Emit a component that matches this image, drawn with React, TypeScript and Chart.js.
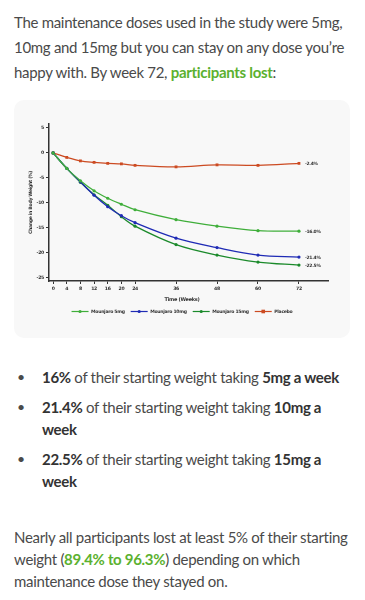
import React, { useEffect, useRef } from "react";
import { Chart, registerables } from "chart.js";

Chart.register(...registerables);

const weeks = [0, 4, 8, 12, 16, 20, 24, 36, 48, 60, 72];
const seriesNames = ["Mounjaro 5mg", "Mounjaro 10mg", "Mounjaro 15mg", "Placebo"];
const mounjaro5 = [0, -3.1, -5.6, -7.6, -9.1, -10.3, -11.4, -13.4, -14.7, -15.6, -15.7];
const mounjaro10 = [0, -3.1, -5.8, -8.5, -10.8, -12.6, -14.0, -17.1, -19.0, -20.5, -20.9];
const mounjaro15 = [0, -3.1, -5.9, -8.4, -10.5, -12.8, -14.7, -18.4, -20.5, -21.9, -22.5];
const placebo = [0, -0.9, -1.6, -1.9, -2.1, -2.2, -2.5, -2.8, -2.4, -2.5, -2.1];
const endLabels = ["-16.0%", "-21.4%", "-22.5%", "-2.4%"];
const yTicks = [5, 0, -5, -10, -15, -20, -25];
const xTitle = "Time (Weeks)";
const yTitle = "Change in Body Weight (%)";

const colors = ["#3fae3a", "#1f2bb5", "#1b8a2b", "#cc4b22"];
const pointStyles = ["circle", "circle", "circle", "rect"];

const FONT = "'DejaVu Sans', sans-serif";

function ChartCard() {
  const ref = useRef<HTMLCanvasElement | null>(null);
  useEffect(() => {
    if (!ref.current) return;
    const values = [mounjaro5, mounjaro10, mounjaro15, placebo];
    const extras = {
      id: "extras",
      afterDatasetsDraw(chart: any) {
        const ctx = chart.ctx;
        ctx.save();
        ctx.font = `bold 4.5px ${FONT}`;
        ctx.fillStyle = "#333";
        ctx.textBaseline = "middle";
        ctx.textAlign = "left";
        chart.data.datasets.forEach((_: any, i: number) => {
          const meta = chart.getDatasetMeta(i);
          const pt = meta.data[meta.data.length - 1];
          ctx.fillText(endLabels[i], pt.x + 6, pt.y + 0.5);
        });
        ctx.font = `bold 5px ${FONT}`;
        ctx.textAlign = "center";
        ctx.fillText(xTitle, chart.width / 2, 200);
        ctx.font = `bold 4.6px ${FONT}`;
        const segW = 17;
        const gap1 = 2.5;
        const gap2 = 6;
        const widths = seriesNames.map((n) => segW + gap1 + ctx.measureText(n).width);
        const total = widths.reduce((a, b) => a + b, 0) + gap2 * (seriesNames.length - 1);
        let x = chart.width / 2 - total / 2;
        const y = 211.5;
        seriesNames.forEach((n, i) => {
          ctx.strokeStyle = colors[i];
          ctx.fillStyle = colors[i];
          ctx.lineWidth = 1.2;
          ctx.beginPath();
          ctx.moveTo(x, y);
          ctx.lineTo(x + segW, y);
          ctx.stroke();
          if (pointStyles[i] === "rect") {
            ctx.fillRect(x + segW / 2 - 1.8, y - 1.8, 3.6, 3.6);
          } else {
            ctx.beginPath();
            ctx.arc(x + segW / 2, y, 1.6, 0, Math.PI * 2);
            ctx.fill();
          }
          ctx.fillStyle = "#333";
          ctx.textAlign = "left";
          ctx.fillText(n, x + segW + gap1, y + 0.3);
          x += widths[i] + gap2;
        });
        ctx.restore();
      },
    };
    const chart = new Chart(ref.current, {
      type: "line",
      data: {
        datasets: values.map((vals, i) => ({
          label: seriesNames[i],
          data: weeks.map((w, j) => ({ x: w, y: vals[j] })),
          borderColor: colors[i],
          backgroundColor: colors[i],
          borderWidth: 1.3,
          pointRadius: pointStyles[i] === "rect" ? 2 : 1.6,
          pointStyle: pointStyles[i] as any,
          pointBorderWidth: 0,
          tension: 0.35,
          fill: false,
        })),
      },
      options: {
        animation: false,
        responsive: false,
        devicePixelRatio: 1,
        layout: { padding: { left: 0, right: 22, top: 24, bottom: 33 } },
        plugins: { legend: { display: false }, tooltip: { enabled: false } },
        scales: {
          x: {
            type: "linear",
            min: -1.2,
            max: 80.5,
            afterBuildTicks: (s: any) => {
              s.ticks = weeks.map((v) => ({ value: v }));
            },
            afterFit: (s: any) => {
              s.height = 24;
            },
            border: { color: "#333", width: 1.5 },
            grid: { drawOnChartArea: false, drawTicks: true, tickLength: 3, color: "#333", tickWidth: 1 },
            ticks: {
              autoSkip: false,
              maxRotation: 0,
              padding: 2,
              color: "#333",
              font: { family: FONT, size: 4.6, weight: "bold" },
              callback: (v: any) => String(v),
            },
          },
          y: {
            type: "linear",
            min: -25.7,
            max: 5.8,
            afterBuildTicks: (s: any) => {
              s.ticks = yTicks.map((v) => ({ value: v }));
            },
            afterFit: (s: any) => {
              s.width = 35;
            },
            border: { color: "#333", width: 1.5 },
            grid: { drawOnChartArea: false, drawTicks: true, tickLength: 3, color: "#333", tickWidth: 1 },
            ticks: {
              padding: 2,
              color: "#333",
              font: { family: FONT, size: 4.6, weight: "bold" },
              callback: (v: any) => String(v),
            },
            title: {
              display: true,
              text: yTitle,
              color: "#333",
              font: { family: FONT, size: 4.6, weight: "bold" },
              padding: { top: 14, bottom: 0 },
            },
          },
        },
      },
      plugins: [extras],
    });
    return () => chart.destroy();
  }, []);
  return <canvas ref={ref} width={336} height={238} style={{ display: "block" }} />;
}

const green = "#5bb12f";

export default function App() {
  const p: React.CSSProperties = { margin: 0 };
  const b: React.CSSProperties = { fontWeight: 700, color: "#333" };
  const li: React.CSSProperties = { position: "relative", paddingLeft: 28, lineHeight: "22px" };
  const dot: React.CSSProperties = { position: "absolute", left: 3, top: 0, fontSize: 14 };
  return (
    <div
      style={{
        fontFamily: "Lato, sans-serif",
        fontSize: 15,
        letterSpacing: "-0.3px",
        color: "#4a4a4a",
        padding: "2px 0 0 6px",
      }}
    >
      <p style={{ ...p, lineHeight: "25px" }}>
        The maintenance doses used in the study were 5mg, 10mg and 15mg but you can stay on any dose you’re happy
        with. By week 72, <span style={{ color: green, fontWeight: 700 }}>participants lost</span>:
      </p>
      <div
        style={{
          marginTop: 14.5,
          width: 336,
          height: 238,
          background: "#f8f8f8",
          borderRadius: 10,
          overflow: "hidden",
        }}
      >
        <ChartCard />
      </div>
      <ul style={{ listStyle: "none", margin: "28.7px 0 0 0", padding: 0 }}>
        <li style={li}>
          <span style={dot}>•</span>
          <span style={b}>16%</span> of their starting weight taking <span style={b}>5mg a week</span>
        </li>
        <li style={{ ...li, marginTop: 8 }}>
          <span style={dot}>•</span>
          <span style={b}>21.4%</span> of their starting weight taking <span style={b}>10mg a week</span>
        </li>
        <li style={{ ...li, marginTop: 8 }}>
          <span style={dot}>•</span>
          <span style={b}>22.5%</span> of their starting weight taking <span style={b}>15mg a week</span>
        </li>
      </ul>
      <p style={{ ...p, lineHeight: "22px", marginTop: 33.7 }}>
        Nearly all participants lost at least 5% of their starting weight (
        <span style={{ color: green, fontWeight: 700 }}>89.4% to 96.3%</span>) depending on which maintenance dose
        they stayed on.
      </p>
      <div style={{ marginTop: 15, marginLeft: -14, width: 365, borderTop: "1px solid #e2e2e2" }} />
    </div>
  );
}
